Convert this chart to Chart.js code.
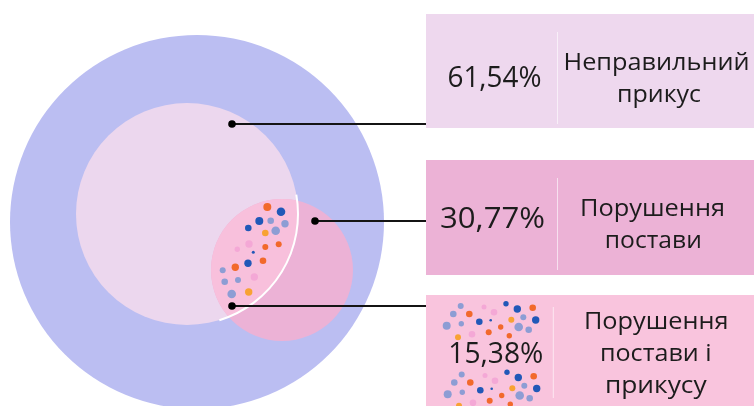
<!DOCTYPE html>
<html>
<head>
<meta charset="utf-8">
<script src="https://cdn.jsdelivr.net/npm/chart.js@4.4.0/dist/chart.umd.min.js"></script>
<style>
  html, body { margin: 0; padding: 0; background: #ffffff; }
  #wrap { width: 754px; height: 406px; }
</style>
</head>
<body>
<div id="wrap"><canvas id="c" width="754" height="406"></canvas></div>
<script>
// ---------- DATA ----------
const CATEGORIES = [
  ['Неправильний', 'прикус'],
  ['Порушення', 'постави'],
  ['Порушення', 'постави і', 'прикусу']
];
const VALUES = [61.54, 30.77, 15.38];
const PERCENT_LABELS = VALUES.map(v => v.toFixed(2).replace('.', ',') + '%');

// ---------- LAYOUT / STYLE ----------
const W = 754, H = 406;
const CIRCLE_OUTER = { x: 197, y: 222, r: 187, color: '#bbbef2' };
const CIRCLE_INNER = { x: 187, y: 214, r: 111, color: '#ecd7ee' };
const CIRCLE_PINK  = { x: 282, y: 270, r: 71,  color: '#ecb2d6' };
const LENS_COLOR = '#f8c0dc';
const FONT = '"Open Sans", "DejaVu Sans", sans-serif';
const TEXT_COLOR = '#1c1c1c';

const BOXES = [
  { top: 14,  bottom: 128, color: '#eed8ee', divX: 557.5, divTop: 32,  divBottom: 124,
    pct: { cx: 494.5, base: 87,  w: 94, size: 30 },
    lines: [{ cx: 656.5, base: 70, w: 186 }, { cx: 659, base: 101.5, w: 84 }], lsize: 24 },
  { top: 160, bottom: 275, color: '#ecb2d6', divX: 557.5, divTop: 178, divBottom: 270,
    pct: { cx: 492.5, base: 228.3, w: 105, size: 30 },
    lines: [{ cx: 652.5, base: 216, w: 145 }, { cx: 653.3, base: 248, w: 97 }], lsize: 24 },
  { top: 295, bottom: 420, color: '#f9c4dd', divX: 553.3, divTop: 307, divBottom: 398,
    pct: { cx: 495.8, base: 363.3, w: 95, size: 30 },
    lines: [{ cx: 656.2, base: 328.8, w: 144.5 }, { cx: 655.8, base: 361.2, w: 111.7 }, { cx: 655.8, base: 393.3, w: 101.7 }], lsize: 24 }
];

const LEADERS = [
  { x: 232, y: 124 },
  { x: 315, y: 221 },
  { x: 232, y: 306 }
];
const LEADER_END_X = 426;

const C = { o: '#f2692b', b: '#2158b8', l: '#8d9dd4', p: '#f4a8d6', y: '#f8a233' };
// decorative confetti inside the lens
const LENS_DOTS = [
  [267.3,207,4,'o'],[281,211.7,4.3,'b'],[259.3,221,4,'b'],[270.7,220.7,3.3,'l'],[285,223.7,3.7,'l'],
  [248.3,228,3.3,'b'],[275.7,230.7,4.3,'l'],[265.3,233,3.3,'y'],[249,244,3.7,'p'],[278.7,244.3,3,'o'],
  [265.3,247,3,'o'],[237.3,249.3,2.7,'p'],[253.3,252.3,1.5,'b'],[263,260.7,3.3,'o'],[248,263.3,3.7,'b'],
  [235.3,267.3,3.7,'o'],[222.7,270.3,3,'l'],[254.3,277,3.7,'p'],[238,280,3,'l'],[224.7,281.7,3.3,'l'],
  [231.7,294,4.3,'l'],[248.7,292,3.7,'y']
];
// decorative confetti in the third box (drawn twice, above and below the number)
const BOX_DOTS = [
  [460.7,306,3,'l'],[453.3,314,3.3,'l'],[469.3,314,3.3,'o'],[484,307,2.5,'p'],[494,312.3,3.3,'p'],
  [506,303.7,2.7,'b'],[517.3,309,3.7,'b'],[532.7,307.7,3.3,'o'],[523.3,317.3,3,'l'],[511.3,319.7,3,'y'],
  [535.7,320,3.7,'b'],[446.7,325.7,4,'l'],[461.3,323.7,2.7,'l'],[479.3,321.7,3.3,'b'],[490.7,320.3,1.3,'b'],
  [500.7,327,2.7,'o'],[518.7,327,4.3,'l'],[528.7,329.7,3.3,'l'],[472,334.3,3.3,'p'],[488.7,332.3,3,'o'],
  [509.3,335.7,2.7,'o'],[458,337.3,3,'y']
];
const BOX_DOTS_SHIFT = [{ dx: 0, dy: 0 }, { dx: 1, dy: 68.5 }];

// ---------- helpers ----------
function fitText(ctx, text, cx, base, w, size) {
  ctx.font = `400 ${size}px ${FONT}`;
  const m = ctx.measureText(text).width;
  ctx.save();
  ctx.translate(cx, base);
  ctx.scale(w / m, 1);
  ctx.textAlign = 'center';
  ctx.textBaseline = 'alphabetic';
  ctx.fillStyle = TEXT_COLOR;
  ctx.fillText(text, 0, 0);
  ctx.restore();
}

const vennPlugin = {
  id: 'venn',
  afterDatasetDraw(chart, args) {
    if (args.index !== 0) return;
    const ctx = chart.ctx, xs = chart.scales.x, ys = chart.scales.y;
    const px = v => xs.getPixelForValue(v), py = v => ys.getPixelForValue(v);
    const I = CIRCLE_INNER, P = CIRCLE_PINK;
    // lens (intersection)
    ctx.save();
    ctx.beginPath();
    ctx.arc(px(I.x), py(I.y), I.r, 0, Math.PI * 2);
    ctx.clip();
    ctx.beginPath();
    ctx.arc(px(P.x), py(P.y), P.r, 0, Math.PI * 2);
    ctx.fillStyle = LENS_COLOR;
    ctx.fill();
    ctx.restore();
    // white arc along inner circle edge
    ctx.save();
    ctx.beginPath();
    ctx.arc(px(I.x), py(I.y), I.r, -0.175, 1.275);
    ctx.strokeStyle = '#ffffff';
    ctx.lineWidth = 2;
    ctx.stroke();
    ctx.restore();
    // confetti
    ctx.save();
    for (const d of LENS_DOTS) {
      ctx.beginPath();
      ctx.arc(px(d[0]), py(d[1]), d[2], 0, Math.PI * 2);
      ctx.fillStyle = C[d[3]];
      ctx.fill();
    }
    ctx.restore();
  },
  afterDatasetsDraw(chart) {
    const ctx = chart.ctx, xs = chart.scales.x, ys = chart.scales.y;
    const px = v => xs.getPixelForValue(v), py = v => ys.getPixelForValue(v);
    // boxes
    BOXES.forEach((b, i) => {
      ctx.save();
      ctx.fillStyle = b.color;
      ctx.fillRect(px(426), py(b.top), px(W) - px(426), py(b.bottom) - py(b.top));
      if (i === 2) {
        ctx.beginPath();
        ctx.rect(px(426), py(b.top), px(W) - px(426), py(H) - py(b.top));
        ctx.clip();
        for (const s of BOX_DOTS_SHIFT) {
          for (const d of BOX_DOTS) {
            ctx.beginPath();
            ctx.arc(px(d[0] + s.dx), py(d[1] + s.dy), d[2], 0, Math.PI * 2);
            ctx.fillStyle = C[d[3]];
            ctx.fill();
          }
        }
      }
      ctx.restore();
      // divider
      ctx.save();
      ctx.strokeStyle = 'rgba(255,255,255,0.6)';
      ctx.lineWidth = 1;
      ctx.beginPath();
      ctx.moveTo(px(b.divX), py(b.divTop));
      ctx.lineTo(px(b.divX), py(b.divBottom));
      ctx.stroke();
      ctx.restore();
      // texts
      fitText(ctx, PERCENT_LABELS[i], px(b.pct.cx), py(b.pct.base), b.pct.w, b.pct.size);
      CATEGORIES[i].forEach((t, k) => {
        const L = b.lines[k];
        fitText(ctx, t, px(L.cx), py(L.base), L.w, b.lsize);
      });
    });
    // leader lines
    ctx.save();
    ctx.strokeStyle = '#141414';
    ctx.fillStyle = '#000000';
    ctx.lineWidth = 1.8;
    for (const l of LEADERS) {
      ctx.beginPath();
      ctx.moveTo(px(l.x), py(l.y));
      ctx.lineTo(px(LEADER_END_X), py(l.y));
      ctx.stroke();
      ctx.beginPath();
      ctx.arc(px(l.x), py(l.y), 3.8, 0, Math.PI * 2);
      ctx.fill();
    }
    ctx.restore();
  }
};

new Chart(document.getElementById('c'), {
  type: 'bubble',
  data: {
    datasets: [
      { label: CATEGORIES[1].join(' '), data: [{ x: CIRCLE_PINK.x, y: CIRCLE_PINK.y, r: CIRCLE_PINK.r }], backgroundColor: CIRCLE_PINK.color },
      { label: CATEGORIES[0].join(' '), data: [{ x: CIRCLE_INNER.x, y: CIRCLE_INNER.y, r: CIRCLE_INNER.r }], backgroundColor: CIRCLE_INNER.color },
      { label: 'all', data: [{ x: CIRCLE_OUTER.x, y: CIRCLE_OUTER.y, r: CIRCLE_OUTER.r }], backgroundColor: CIRCLE_OUTER.color }
    ]
  },
  options: {
    responsive: false,
    animation: false,
    events: [],
    layout: { padding: 0, autoPadding: false },
    elements: { point: { borderWidth: 0, hoverBorderWidth: 0, hoverRadius: 0 } },
    clip: false,
    scales: {
      x: { type: 'linear', min: 0, max: W, display: false },
      y: { type: 'linear', min: 0, max: H, reverse: true, display: false }
    },
    plugins: { legend: { display: false }, tooltip: { enabled: false } }
  },
  plugins: [vennPlugin]
});
</script>
</body>
</html>
